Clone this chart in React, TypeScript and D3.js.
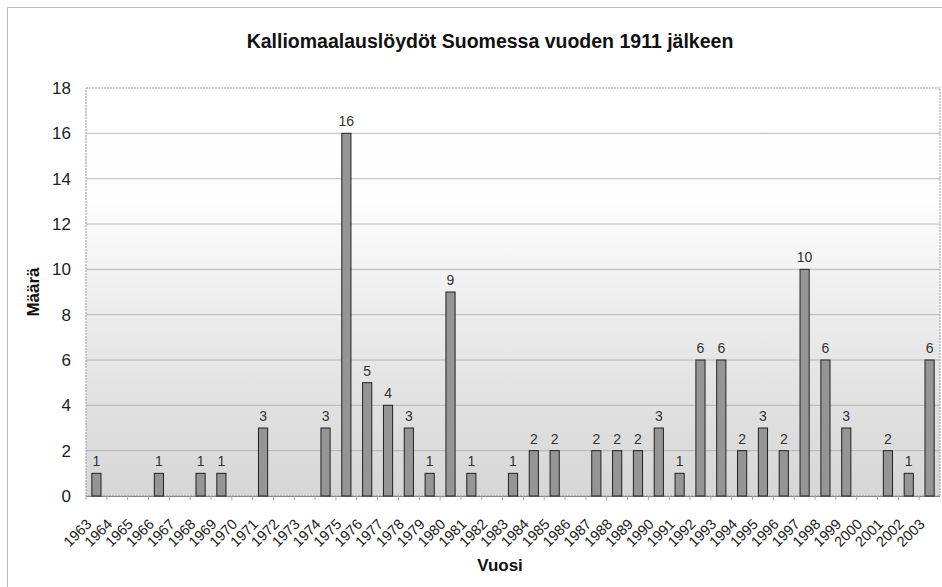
import { useRef, useEffect } from 'react';
import * as d3 from 'd3';

const years = [
  '1963', '1964', '1965', '1966', '1967', '1968', '1969', '1970', '1971', '1972',
  '1973', '1974', '1975', '1976', '1977', '1978', '1979', '1980', '1981', '1982',
  '1983', '1984', '1985', '1986', '1987', '1988', '1989', '1990', '1991', '1992',
  '1993', '1994', '1995', '1996', '1997', '1998', '1999', '2000', '2001', '2002',
  '2003',
];

// löydöt per vuosi (0 = ei palkkia)
const counts = [
  1, 0, 0, 1, 0, 1, 1, 0, 3, 0,
  0, 3, 16, 5, 4, 3, 1, 9, 1, 0,
  1, 2, 2, 0, 2, 2, 2, 3, 1, 6,
  6, 2, 3, 2, 10, 6, 3, 0, 2, 1,
  6,
];

const yTicks = [0, 2, 4, 6, 8, 10, 12, 14, 16, 18];

const title = 'Kalliomaalauslöydöt Suomessa vuoden 1911 jälkeen';
const font = 'Arial, "Liberation Sans", Helvetica, sans-serif';

export default function App() {
  const ref = useRef<SVGSVGElement>(null);

  useEffect(() => {
    const width = 942;
    const height = 587;
    const m = { left: 86, right: 940, top: 88, bottom: 496 };

    const svg = d3.select(ref.current);
    svg.selectAll('*').remove();

    const defs = svg.append('defs');
    const grad = defs
      .append('linearGradient')
      .attr('id', 'bg')
      .attr('x1', 0)
      .attr('y1', 0)
      .attr('x2', 0)
      .attr('y2', 1);
    grad.append('stop').attr('offset', '0%').attr('stop-color', '#ffffff');
    grad.append('stop').attr('offset', '28%').attr('stop-color', '#fdfdfd');
    grad.append('stop').attr('offset', '55%').attr('stop-color', '#ececec');
    grad.append('stop').attr('offset', '100%').attr('stop-color', '#d6d6d6');

    const x = d3
      .scaleBand<string>()
      .domain(years)
      .range([m.left, m.right])
      .paddingInner(0.56)
      .paddingOuter(0.28);

    const y = d3.scaleLinear().domain([0, 18]).range([m.bottom, m.top]);

    // outer frame
    svg
      .append('rect')
      .attr('x', 7.5)
      .attr('y', 7.5)
      .attr('width', width)
      .attr('height', height)
      .attr('fill', 'white')
      .attr('stroke', '#bbb');

    // title
    svg
      .append('text')
      .attr('x', 490)
      .attr('y', 48)
      .attr('text-anchor', 'middle')
      .attr('font-family', font)
      .attr('font-weight', 'bold')
      .attr('font-size', 19.5)
      .attr('fill', '#111')
      .text(title);

    // plot area
    svg
      .append('rect')
      .attr('x', m.left)
      .attr('y', m.top)
      .attr('width', m.right - m.left)
      .attr('height', m.bottom - m.top)
      .attr('fill', 'url(#bg)')
      .attr('stroke', '#999')
      .attr('stroke-dasharray', '2,1');

    // gridlines
    svg
      .append('g')
      .selectAll('line')
      .data(yTicks.filter((t) => t > 0 && t < 18))
      .join('line')
      .attr('x1', m.left)
      .attr('x2', m.right)
      .attr('y1', (d) => y(d))
      .attr('y2', (d) => y(d))
      .attr('stroke', '#a8a8a8')
      .attr('stroke-width', 0.8);

    // y axis labels
    svg
      .append('g')
      .selectAll('text')
      .data(yTicks)
      .join('text')
      .attr('x', 71)
      .attr('y', (d) => y(d))
      .attr('dy', '0.36em')
      .attr('text-anchor', 'end')
      .attr('font-family', font)
      .attr('font-size', 17)
      .attr('fill', '#222')
      .text((d) => d);

    // x axis line + ticks
    svg
      .append('line')
      .attr('x1', m.left)
      .attr('x2', m.right)
      .attr('y1', m.bottom + 0.5)
      .attr('y2', m.bottom + 0.5)
      .attr('stroke', '#888');

    const step = x.step();
    svg
      .append('g')
      .selectAll('line')
      .data(years)
      .join('line')
      .attr('x1', (d) => x(d)! + x.bandwidth() / 2 - step / 2)
      .attr('x2', (d) => x(d)! + x.bandwidth() / 2 - step / 2)
      .attr('y1', m.bottom)
      .attr('y2', m.bottom + 4)
      .attr('stroke', '#aaa');

    const data = years.map((yr, i) => ({ year: yr, value: counts[i] })).filter((d) => d.value > 0);

    // bars
    svg
      .append('g')
      .selectAll('rect')
      .data(data)
      .join('rect')
      .attr('x', (d) => x(d.year)!)
      .attr('y', (d) => y(d.value))
      .attr('width', x.bandwidth())
      .attr('height', (d) => y(0) - y(d.value))
      .attr('fill', '#959595')
      .attr('stroke', '#222')
      .attr('stroke-width', 1);

    // value labels
    svg
      .append('g')
      .selectAll('text')
      .data(data)
      .join('text')
      .attr('x', (d) => x(d.year)! + x.bandwidth() / 2)
      .attr('y', (d) => y(d.value) - 7)
      .attr('text-anchor', 'middle')
      .attr('font-family', font)
      .attr('font-size', 14)
      .attr('fill', '#333')
      .text((d) => d.value);

    // year labels, rotated
    svg
      .append('g')
      .selectAll('text')
      .data(years)
      .join('text')
      .attr('transform', (d) => `translate(${x(d)! + x.bandwidth() / 2 - 4}, 525) rotate(-45)`)
      .attr('text-anchor', 'end')
      .attr('font-family', font)
      .attr('font-size', 14.5)
      .attr('fill', '#222')
      .text((d) => d);

    // axis titles
    svg
      .append('text')
      .attr('x', 500)
      .attr('y', 571)
      .attr('text-anchor', 'middle')
      .attr('font-family', font)
      .attr('font-weight', 'bold')
      .attr('font-size', 17)
      .attr('fill', '#111')
      .text('Vuosi');

    svg
      .append('text')
      .attr('transform', 'translate(39, 292) rotate(-90)')
      .attr('text-anchor', 'middle')
      .attr('font-family', font)
      .attr('font-weight', 'bold')
      .attr('font-size', 17)
      .attr('fill', '#111')
      .text('Määrä');
  }, []);

  return (
    <svg
      ref={ref}
      width={942}
      height={587}
      style={{ position: 'absolute', left: 0, top: 0, display: 'block' }}
    />
  );
}
